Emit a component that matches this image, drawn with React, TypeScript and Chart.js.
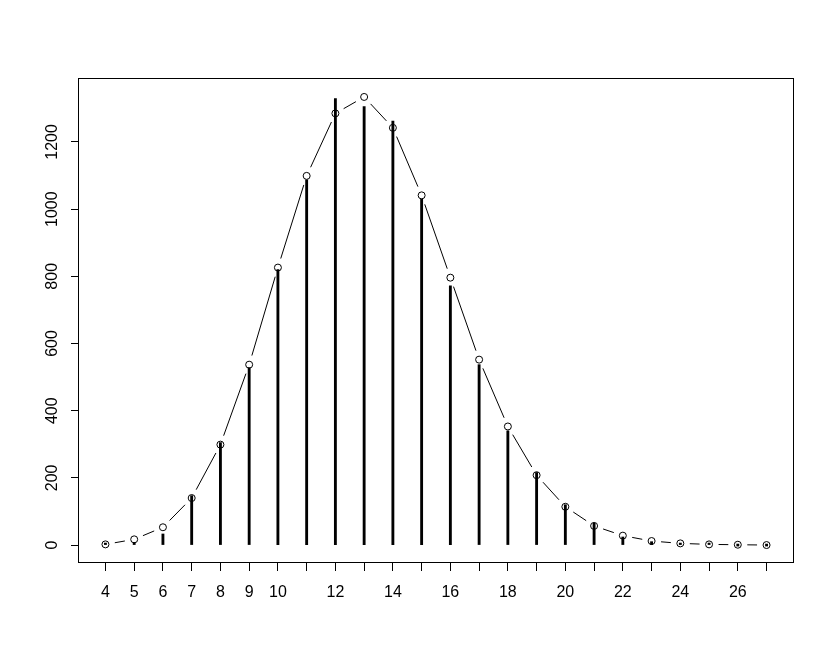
import React, { useEffect, useRef } from "react";
import { Chart, registerables } from "chart.js";

Chart.register(...registerables);

const categories = [4, 5, 6, 7, 8, 9, 10, 11, 12, 13, 14, 15, 16, 17, 18, 19, 20, 21, 22, 23, 24, 25, 26, 27];
const observedCounts = [1, 8, 33, 147, 305, 528, 820, 1087, 1329, 1305, 1262, 1030, 772, 537, 340, 216, 120, 65, 24, 10, 3, 1, 0, 0];
const expectedCounts = [2, 17, 53, 140, 299, 537, 826, 1099, 1285, 1334, 1242, 1041, 796, 552, 353, 208, 114, 57, 28, 12, 5, 2, 1, 0];
const xLabelsShown = [4, 5, 6, 7, 8, 9, 10, 12, 14, 16, 18, 20, 22, 24, 26];
const yTickValues = [0, 200, 400, 600, 800, 1000, 1200];

const FONT = "'Liberation Sans', Arial, Helvetica, sans-serif";

const gappedLinePlugin = {
  id: "gappedLine",
  afterDatasetsDraw(chart: any) {
    const meta = chart.getDatasetMeta(1);
    const pts = meta.data;
    const ctx = chart.ctx;
    const gap = 9.5;
    ctx.save();
    ctx.strokeStyle = "#000";
    ctx.lineWidth = 1;
    for (let i = 0; i < pts.length - 1; i++) {
      const a = pts[i];
      const b = pts[i + 1];
      const dx = b.x - a.x;
      const dy = b.y - a.y;
      const d = Math.hypot(dx, dy);
      if (d <= 2 * gap) continue;
      const ux = dx / d;
      const uy = dy / d;
      ctx.beginPath();
      ctx.moveTo(a.x + ux * gap, a.y + uy * gap);
      ctx.lineTo(b.x - ux * gap, b.y - uy * gap);
      ctx.stroke();
    }
    ctx.restore();
  },
};

const boxPlugin = {
  id: "plotBox",
  afterDraw(chart: any) {
    const { left, top, right, bottom } = chart.chartArea;
    const ctx = chart.ctx;
    ctx.save();
    ctx.strokeStyle = "#000";
    ctx.lineWidth = 1;
    ctx.strokeRect(Math.round(left) - 0.5, Math.round(top) - 0.5, Math.round(right - left) + 1, Math.round(bottom - top));
    ctx.restore();
  },
};

export default function App() {
  const canvasRef = useRef<HTMLCanvasElement | null>(null);

  useEffect(() => {
    if (!canvasRef.current) return;
    const chart = new Chart(canvasRef.current, {
      type: "bar",
      data: {
        datasets: [
          {
            type: "bar",
            data: categories.map((c, i) => ({ x: c, y: observedCounts[i] })),
            backgroundColor: "#000",
            borderWidth: 0,
            barThickness: 2.2,
            minBarLength: 2,
            order: 2,
          } as any,
          {
            type: "line",
            data: categories.map((c, i) => ({ x: c, y: expectedCounts[i] })),
            showLine: false,
            pointRadius: 3.5,
            pointBorderWidth: 1,
            pointBorderColor: "#000",
            pointBackgroundColor: "rgba(0,0,0,0)",
            order: 1,
          } as any,
        ],
      },
      options: {
        animation: false,
        responsive: false,
        devicePixelRatio: 1,
        events: [],
        layout: { padding: { left: 0, top: 79, right: 41, bottom: 0 } },
        plugins: { legend: { display: false }, tooltip: { enabled: false } },
        scales: {
          x: {
            type: "linear",
            min: 3.08,
            max: 27.92,
            offset: false,
            afterBuildTicks: (s: any) => {
              s.ticks = categories.map((v) => ({ value: v }));
            },
            afterFit: (s: any) => {
              s.height = 98;
            },
            grid: { offset: false, drawOnChartArea: false, drawTicks: true, tickLength: 8, color: "#000", lineWidth: 1 },
            border: { display: false },
            ticks: {
              autoSkip: false,
              minRotation: 0,
              maxRotation: 0,
              padding: 12,
              color: "#000",
              font: { family: FONT, size: 16 },
              callback: (v: any) => (xLabelsShown.includes(Number(v)) ? String(v) : ""),
            },
          },
          y: {
            type: "linear",
            min: -53.4,
            max: 1387.4,
            afterBuildTicks: (s: any) => {
              s.ticks = yTickValues.map((v) => ({ value: v }));
            },
            afterFit: (s: any) => {
              s.width = 79;
            },
            grid: { drawOnChartArea: false, drawTicks: true, tickLength: 8, color: "#000", lineWidth: 1 },
            border: { display: false },
            ticks: {
              minRotation: 90,
              maxRotation: 90,
              crossAlign: "center",
              padding: 1,
              color: "#000",
              font: { family: FONT, size: 16 },
              callback: (v: any) => String(v),
            },
          },
        },
      } as any,
      plugins: [gappedLinePlugin, boxPlugin],
    });
    return () => chart.destroy();
  }, []);

  return (
    <div style={{ position: "fixed", left: 0, top: 0, width: 834, height: 661, background: "#fff" }}>
      <canvas ref={canvasRef} width={834} height={661} style={{ width: 834, height: 661 }} />
    </div>
  );
}
